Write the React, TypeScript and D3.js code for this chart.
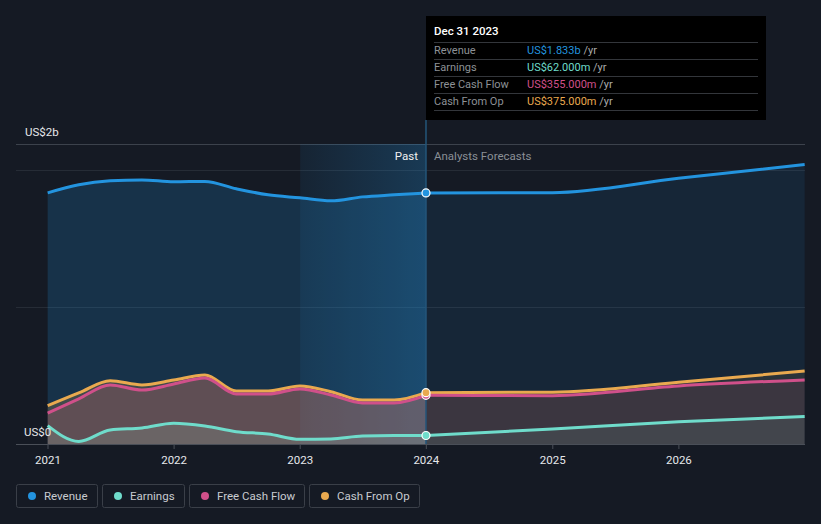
import { useEffect, useRef } from 'react';
import * as d3 from 'd3';

const pastDates = [
  '2020-12-31', '2021-03-31', '2021-06-30', '2021-09-30', '2021-12-31',
  '2022-03-31', '2022-06-30', '2022-09-30', '2022-12-31',
  '2023-03-31', '2023-06-30', '2023-09-30', '2023-12-31'
];
const forecastDates = ['2023-12-31', '2024-12-31', '2025-12-31', '2026-12-31'];

// values in US$ billions
const revenuePast = [1.833, 1.892, 1.921, 1.928, 1.914, 1.917, 1.863, 1.819, 1.797, 1.775, 1.804, 1.819, 1.833];
const earningsPast = [0.134, 0.018, 0.102, 0.117, 0.151, 0.131, 0.09, 0.073, 0.034, 0.037, 0.058, 0.062, 0.062];
const fcfPast = [0.226, 0.33, 0.431, 0.394, 0.438, 0.482, 0.365, 0.365, 0.402, 0.358, 0.3, 0.3, 0.355];
const cfoPast = [0.28, 0.373, 0.462, 0.431, 0.467, 0.504, 0.387, 0.387, 0.424, 0.382, 0.321, 0.321, 0.375];

const revenueFc = [1.833, 1.835, 1.94, 2.04];
const earningsFc = [0.062, 0.11, 0.163, 0.2];
const fcfFc = [0.355, 0.353, 0.424, 0.468];
const cfoFc = [0.375, 0.378, 0.45, 0.533];

const yearTicks = [2021, 2022, 2023, 2024, 2025, 2026];

const series = [
  { name: 'Revenue', color: '#2394df', past: revenuePast, fc: revenueFc, value: 'US$1.833b' },
  { name: 'Earnings', color: '#6fdccb', past: earningsPast, fc: earningsFc, value: 'US$62.000m' },
  { name: 'Free Cash Flow', color: '#d0508a', past: fcfPast, fc: fcfFc, value: 'US$355.000m' },
  { name: 'Cash From Op', color: '#e9a94f', past: cfoPast, fc: cfoFc, value: 'US$375.000m' }
];

export default function App() {
  const svgRef = useRef(null);

  useEffect(() => {
    document.body.style.margin = '0';
    document.body.style.background = '#151a24';
    const width = 821;
    const height = 524;
    const svg = d3.select(svgRef.current);
    svg.selectAll('*').remove();
    svg.attr('width', width).attr('height', height);

    const font = 'Roboto, "Open Sans", sans-serif';
    const parse = d3.timeParse('%Y-%m-%d');

    const x = d3.scaleTime()
      .domain([new Date(2021, 0, 1), new Date(2027, 0, 1)])
      .range([48, 805]);
    const y = d3.scaleLinear().domain([0, 2.19]).range([444, 144]);

    svg.append('rect').attr('width', width).attr('height', height).attr('fill', '#151a24');

    const defs = svg.append('defs');
    const pg = defs.append('linearGradient').attr('id', 'pastGrad')
      .attr('x1', '0%').attr('x2', '100%').attr('y1', '0%').attr('y2', '0%');
    pg.append('stop').attr('offset', '0%').attr('stop-color', '#2394df').attr('stop-opacity', 0.08);
    pg.append('stop').attr('offset', '100%').attr('stop-color', '#2394df').attr('stop-opacity', 0.26);

    const splitX = x(parse('2023-12-31'));
    const startPast = x(new Date(2023, 0, 1));

    // gridlines
    svg.append('line').attr('x1', 16).attr('x2', 805).attr('y1', 144.5).attr('y2', 144.5)
      .attr('stroke', '#3c424c').attr('stroke-width', 1);
    [1, 2].forEach(v => {
      svg.append('line').attr('x1', 16).attr('x2', 805)
        .attr('y1', Math.round(y(v)) + 0.5).attr('y2', Math.round(y(v)) + 0.5)
        .attr('stroke', '#262c36').attr('stroke-width', 1);
    });

    // past highlight
    svg.append('rect').attr('x', startPast).attr('y', 144).attr('width', splitX - startPast)
      .attr('height', 300).attr('fill', 'url(#pastGrad)');

    const area = d3.area<any>().x(d => x(d.date)).y0(y(0)).y1(d => y(d.v)).curve(d3.curveMonotoneX);
    const line = d3.line<any>().x(d => x(d.date)).y(d => y(d.v)).curve(d3.curveMonotoneX);

    const toPts = (dates, vals) => dates.map((d, i) => ({ date: parse(d), v: vals[i] }));

    series.forEach(s => {
      svg.append('path').attr('d', area(toPts(pastDates, s.past)))
        .attr('fill', s.color).attr('fill-opacity', 0.2);
      svg.append('path').attr('d', area(toPts(forecastDates, s.fc)))
        .attr('fill', s.color).attr('fill-opacity', 0.1);
    });

    // tooltip line
    svg.append('line').attr('x1', splitX).attr('x2', splitX).attr('y1', 120).attr('y2', 444)
      .attr('stroke', '#24557a').attr('stroke-width', 1.5);

    // lines, draw in reverse so revenue on top
    [...series].reverse().forEach(s => {
      svg.append('path').attr('d', line(toPts(pastDates, s.past)))
        .attr('fill', 'none').attr('stroke', s.color).attr('stroke-width', 3);
      svg.append('path').attr('d', line(toPts(forecastDates, s.fc)))
        .attr('fill', 'none').attr('stroke', s.color).attr('stroke-width', 3);
    });

    // baseline & ticks
    svg.append('line').attr('x1', 16).attr('x2', 805).attr('y1', 444.5).attr('y2', 444.5)
      .attr('stroke', '#4a4f58').attr('stroke-width', 1);
    yearTicks.forEach(yr => {
      const tx = x(new Date(yr, 0, 1));
      svg.append('line').attr('x1', tx).attr('x2', tx).attr('y1', 444).attr('y2', 449)
        .attr('stroke', '#4a4f58');
      svg.append('text').attr('x', tx).attr('y', 464).attr('text-anchor', 'middle')
        .attr('font-family', font).attr('font-size', 11.5).attr('fill', '#e6e8eb').text(yr);
    });

    // markers
    [series[2], series[3], series[1], series[0]].forEach(s => {
      svg.append('circle').attr('cx', splitX).attr('cy', y(s.past[s.past.length - 1])).attr('r', 4)
        .attr('fill', s.color).attr('stroke', '#fff').attr('stroke-width', 1.2);
    });

    // y labels
    svg.append('text').attr('x', 25).attr('y', 136).attr('font-family', font).attr('font-size', 11.5)
      .attr('fill', '#e6e8eb').text('US$2b');
    svg.append('text').attr('x', 24).attr('y', 436).attr('font-family', font).attr('font-size', 11.5)
      .attr('fill', '#e6e8eb').text('US$0');

    svg.append('text').attr('x', 418).attr('y', 160).attr('text-anchor', 'end').attr('font-family', font)
      .attr('font-size', 11.5).attr('fill', '#f0f0f0').text('Past');
    svg.append('text').attr('x', 434).attr('y', 160).attr('font-family', font)
      .attr('font-size', 11.5).attr('fill', '#8a8f96').text('Analysts Forecasts');

    // tooltip
    const tip = svg.append('g');
    tip.append('rect').attr('x', 426).attr('y', 16).attr('width', 340).attr('height', 104).attr('fill', '#000');
    tip.append('text').attr('x', 434).attr('y', 35).attr('font-family', font).attr('font-size', 11.5)
      .attr('font-weight', 500).attr('fill', '#fff').text('Dec 31 2023');
    series.forEach((s, i) => {
      const ry = 42 + i * 17;
      tip.append('line').attr('x1', 434).attr('x2', 758).attr('y1', ry + 0.5).attr('y2', ry + 0.5)
        .attr('stroke', '#33363b');
      tip.append('text').attr('x', 434).attr('y', ry + 12).attr('font-family', font).attr('font-size', 11)
        .attr('fill', '#8d9196').text(s.name);
      const t = tip.append('text').attr('x', 527).attr('y', ry + 12).attr('font-family', font).attr('font-size', 11);
      t.append('tspan').attr('fill', s.color).text(s.value);
      t.append('tspan').attr('fill', '#aaa').text(' /yr');
    });
    tip.append('line').attr('x1', 434).attr('x2', 758).attr('y1', 110.5).attr('y2', 110.5).attr('stroke', '#33363b');

    // legend
    const boxes = [[16, 81], [102, 82], [189, 115], [309, 110]];
    series.forEach((s, i) => {
      const [bx, bw] = boxes[i];
      const g = svg.append('g');
      g.append('rect').attr('x', bx + 0.5).attr('y', 484.5).attr('width', bw).attr('height', 23).attr('rx', 2)
        .attr('fill', 'none').attr('stroke', '#3a3f48');
      g.append('circle').attr('cx', bx + 16).attr('cy', 496).attr('r', 4).attr('fill', s.color);
      g.append('text').attr('x', bx + 28).attr('y', 500).attr('font-family', font).attr('font-size', 11.5)
        .attr('fill', '#c8cbd0').text(s.name);
    });
  }, []);

  return <svg ref={svgRef} style={{ display: 'block' }} />;
}
